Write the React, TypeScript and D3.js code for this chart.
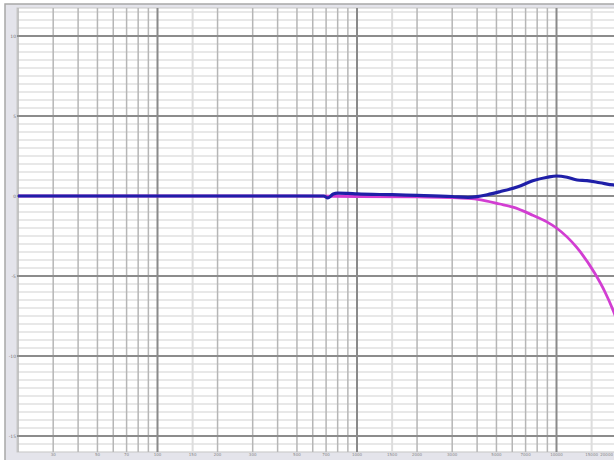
import { useMemo } from "react";
import * as d3 from "d3";

const WIDTH = 614;
const HEIGHT = 460;
const PLOT = { left: 17, top: 8, right: 617, bottom: 452 };

// grid and tick values
const DECADE_FREQS = [100, 1000, 10000];
const MINOR_FREQS = [
  20, 30, 40, 50, 60, 70, 80, 90, 200, 300, 400, 500, 600, 700, 800, 900,
  2000, 3000, 4000, 5000, 6000, 7000, 8000, 9000, 20000,
];
const HALF_FREQS = [150, 1500, 15000];
const X_LABELS = [30, 50, 70, 100, 150, 200, 300, 500, 700, 1000, 1500, 2000, 3000, 5000, 7000, 10000, 15000, 20000];
const Y_LABELS = [10, 5, 0, -5, -10, -15];

// blue trace
const MEASURED_FREQ = [20, 100, 300, 600, 680, 715, 760, 800, 900, 1000, 1500, 2000, 3000, 3600, 4000, 4500, 5200, 6400, 7600, 9000, 10000, 11300, 12700, 14200, 16500, 19300, 20000];
const MEASURED_DB = [0, 0, 0, 0, 0, -0.12, 0.12, 0.18, 0.16, 0.13, 0.08, 0.04, -0.03, -0.08, -0.04, 0.08, 0.27, 0.58, 0.95, 1.17, 1.25, 1.17, 1.0, 0.96, 0.83, 0.69, 0.67];

// magenta trace
const MODEL_FREQ = [20, 100, 500, 1000, 2000, 3000, 3600, 4100, 5200, 6050, 7600, 8900, 10000, 12600, 15500, 17500, 19300, 20000];
const MODEL_DB = [0, 0, 0, -0.03, -0.06, -0.1, -0.15, -0.22, -0.5, -0.7, -1.2, -1.6, -2.0, -3.2, -4.8, -6.0, -7.2, -7.7];

export default function App() {
  const x = useMemo(() => d3.scaleLog().domain([100, 10000]).range([157.5, 556.5]), []);
  const y = useMemo(() => d3.scaleLinear().domain([-15, 10]).range([436, 36]), []);

  const minorDb = useMemo(() => {
    const out: number[] = [];
    for (let v = -16; v <= 11.5; v += 0.5) if (v % 5 !== 0) out.push(v);
    return out;
  }, []);

  const line = d3
    .line<[number, number]>()
    .x((d) => x(d[0]))
    .y((d) => y(d[1]))
    .curve(d3.curveMonotoneX);

  const measured = line(MEASURED_FREQ.map((f, i) => [f, MEASURED_DB[i]]));
  const model = line(MODEL_FREQ.map((f, i) => [f, MODEL_DB[i]]));

  return (
    <svg
      width={WIDTH}
      height={HEIGHT}
      style={{ position: "fixed", left: 0, top: 0, background: "#fff" }}
      fontFamily="DejaVu Sans"
    >
      <defs>
        <clipPath id="plot">
          <rect x={PLOT.left} y={PLOT.top} width={PLOT.right - PLOT.left} height={PLOT.bottom - PLOT.top} />
        </clipPath>
      </defs>
      {/* frame */}
      <rect x={5} y={4} width={WIDTH} height={HEIGHT} fill="#e4e4eb" stroke="#a8a8a8" strokeWidth={1.5} />
      <rect x={PLOT.left} y={PLOT.top} width={PLOT.right - PLOT.left} height={PLOT.bottom - PLOT.top} fill="#fff" stroke="#c8c8c8" strokeWidth={1} />

      <g clipPath="url(#plot)">
        {minorDb.map((v) => (
          <line key={`hm${v}`} x1={PLOT.left} x2={PLOT.right} y1={y(v)} y2={y(v)} stroke="#e0e0e0" strokeWidth={1.6} />
        ))}
        {HALF_FREQS.map((f) => (
          <line key={`vh${f}`} x1={x(f)} x2={x(f)} y1={PLOT.top} y2={PLOT.bottom} stroke="#dddddd" strokeWidth={2} />
        ))}
        {MINOR_FREQS.map((f) => (
          <line key={`vm${f}`} x1={x(f)} x2={x(f)} y1={PLOT.top} y2={PLOT.bottom} stroke="#b6b6b6" strokeWidth={1.5} />
        ))}
        {Y_LABELS.map((v) => (
          <line key={`hM${v}`} x1={PLOT.left} x2={PLOT.right} y1={y(v)} y2={y(v)} stroke="#8c8c8c" strokeWidth={2} />
        ))}
        {DECADE_FREQS.map((f) => (
          <line key={`vM${f}`} x1={x(f)} x2={x(f)} y1={PLOT.top} y2={PLOT.bottom} stroke="#8a8a8a" strokeWidth={2} />
        ))}

        <path d={model ?? ""} fill="none" stroke="#d23ed2" strokeWidth={2.8} />
        <path d={measured ?? ""} fill="none" stroke="#1f1fa8" strokeWidth={3.2} />
      </g>

      {Y_LABELS.map((v) => (
        <text key={`yl${v}`} x={16} y={y(v) + 1.5} fontSize={4.5} fill="#777" textAnchor="end">
          {v}
        </text>
      ))}
      {X_LABELS.map((f) => {
        const px = x(f);
        const last = px > WIDTH - 8;
        return (
          <text
            key={`xl${f}`}
            x={last ? WIDTH - 1 : px}
            y={456}
            fontSize={4}
            fill="#888"
            textAnchor={last ? "end" : "middle"}
          >
            {f}
          </text>
        );
      })}
    </svg>
  );
}
